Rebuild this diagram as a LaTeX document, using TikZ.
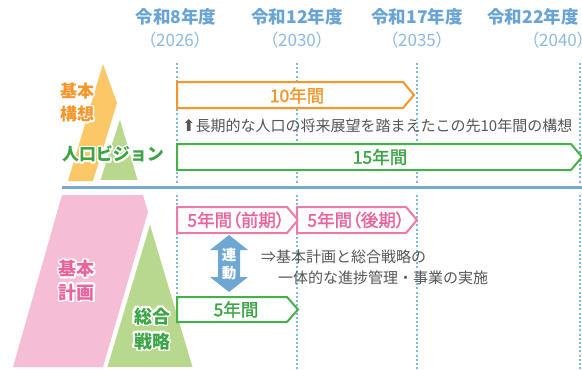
\documentclass[tikz,border=0pt]{standalone}
\usepackage{fontspec}
\setmainfont{Noto Sans CJK JP}
\newfontfamily\dejavu{DejaVu Sans}
\newfontfamily\tagfont[RawFeature=+palt, FakeBold=1.6]{Noto Sans CJK JP}
\newfontfamily\yrfont[RawFeature=+palt]{Noto Sans CJK JP}
\usepackage{contour}
\contourlength{1.6pt}
\definecolor{hdrblue}{HTML}{6AA4D4}
\definecolor{yrblue}{HTML}{8DBBE0}
\definecolor{vblue}{HTML}{7DBBD8}
\definecolor{sepblue}{HTML}{77A8D6}
\definecolor{linkblue}{HTML}{6EA6D4}
\definecolor{orgline}{HTML}{F5962A}
\definecolor{orgfill}{HTML}{FCC767}
\definecolor{grnline}{HTML}{46B04A}
\definecolor{grntext}{HTML}{3BA444}
\definecolor{grnfill}{HTML}{B8D98D}
\definecolor{pnkline}{HTML}{EE7AAA}
\definecolor{pnktext}{HTML}{E8649C}
\definecolor{pnkfill}{HTML}{F6BED6}
\definecolor{graytxt}{HTML}{555555}
\tikzset{
  hdr/.style={text=hdrblue, font=\fontsize{17.5}{18}\selectfont\bfseries, inner sep=0},
  yr/.style={text=yrblue, font=\yrfont\fontsize{17}{18}\selectfont, inner sep=0},
  vline/.style={vblue, line width=1.3pt, dash pattern=on 2pt off 2.2pt},
  pentline/.style={line width=2pt, fill=white, line join=miter},
  tagtxt/.style={font=\tagfont\fontsize{17.5}{18}\selectfont, inner sep=0},
  notetxt/.style={text=graytxt, font=\fontsize{15}{16}\selectfont, inner sep=0, anchor=west},
  lbl/.style={font=\fontsize{17}{23}\selectfont\bfseries, inner sep=0, align=center},
  shapegap/.style={draw=white, line width=2pt, line join=round}
}
\newcommand\pent[5]{%
  \draw[pentline, draw=#5] (#1,#3) -- (#2-11,#3) -- (#2,{(#3+#4)/2}) -- (#2-11,#4) -- (#1,#4) -- cycle;}
\begin{document}
\begin{tikzpicture}[x=1pt,y=-1pt]
\useasboundingbox[fill=white] (0,0) rectangle (582,370);
% headers
\node[hdr] (h1) at (176,17) {令和8年度};
\node[hdr] (h2) at (297,17) {令和12年度};
\node[hdr] (h3) at (417,17) {令和17年度};
\node[hdr] (h4) at (533,17) {令和22年度};
\node[yr] (y1) at (175,40) {（2026）};
\node[yr] (y2) at (297,40) {（2030）};
\node[yr] (y3) at (417,40) {（2035）};
\node[yr] (y4) at (558,40) {（2040）};
% dashed lines
\foreach \x in {177,297,417,580}{
  \draw[vline] (\x,63) -- (\x,183);
  \draw[vline] (\x,195) -- (\x,370);
}
% top left shapes
\fill[orgfill] (68,181) -- (103,64) -- (117,103) -- (93,181) -- cycle;
\filldraw[fill=grnfill, shapegap] (120,116) -- (139,181) -- (99,181) -- cycle;
\node[lbl, text=orgline] (kk) at (77,103.5) {\contour{white}{基本}\\\contour{white}{構想}};
\node[lbl, text=grntext] (jv) at (113,155) {\contour{white}{人口ビジョン}};
% top arrows
\pent{177}{414}{82}{108}{orgline}
\node[tagtxt, text=orgline] (t10) at (297,95.5) {10年間};
\node[notetxt] (n1) at (182,126) {{\dejavu\fontsize{16}{15}\selectfont ⬆}長期的な人口の将来展望を踏まえたこの先10年間の構想};
\pent{177}{582}{144}{170}{grnline}
\node[tagtxt, text=grntext] (t15) at (380,157) {15年間};
% separator
\draw[sepblue, line width=3pt] (62,187.5) -- (582,187.5);
% bottom left shapes
\fill[pnkfill] (62,195) -- (143,195) -- (148,212) -- (103,367) -- (13,367) -- cycle;
\filldraw[fill=grnfill, shapegap] (150,221) -- (194,368) -- (106,368) -- cycle;
\node[lbl, text=pnktext, font=\fontsize{18}{23.5}\selectfont\bfseries] (kp) at (77,281.5) {\contour{white}{基本}\\\contour{white}{計画}};
\node[lbl, text=grntext, font=\fontsize{18}{25}\selectfont\bfseries] (ss) at (152,329.5) {\contour{white}{総合}\\\contour{white}{戦略}};
% bottom arrows
\pent{177}{298}{207}{233}{pnkline}
\node[tagtxt, text=pnktext] (p1) at (236,220) {5年間（前期）};
\pent{297}{417}{207}{233}{pnkline}
\node[tagtxt, text=pnktext] (p2) at (356,220) {5年間（後期）};
\pent{177}{298}{297}{322}{grnline}
\node[tagtxt, text=grntext] (g5) at (236,309.5) {5年間};
% link arrow
\fill[linkblue] (229,235) -- (248,250) -- (240,250) -- (240,277) -- (248,277) -- (229,292)
  -- (210,277) -- (218,277) -- (218,250) -- (210,250) -- cycle;
\node[text=white, font=\fontsize{14.5}{15}\selectfont\bfseries, inner sep=0] (r1) at (229,255) {連};
\node[text=white, font=\fontsize{14.5}{15}\selectfont\bfseries, inner sep=0] (r2) at (229,273) {動};
% notes
\node[notetxt] (n2) at (261,257) {⇒基本計画と総合戦略の};
\node[notetxt] (n3) at (278,278) {一体的な進捗管理・事業の実施};
\end{tikzpicture}
\end{document}
